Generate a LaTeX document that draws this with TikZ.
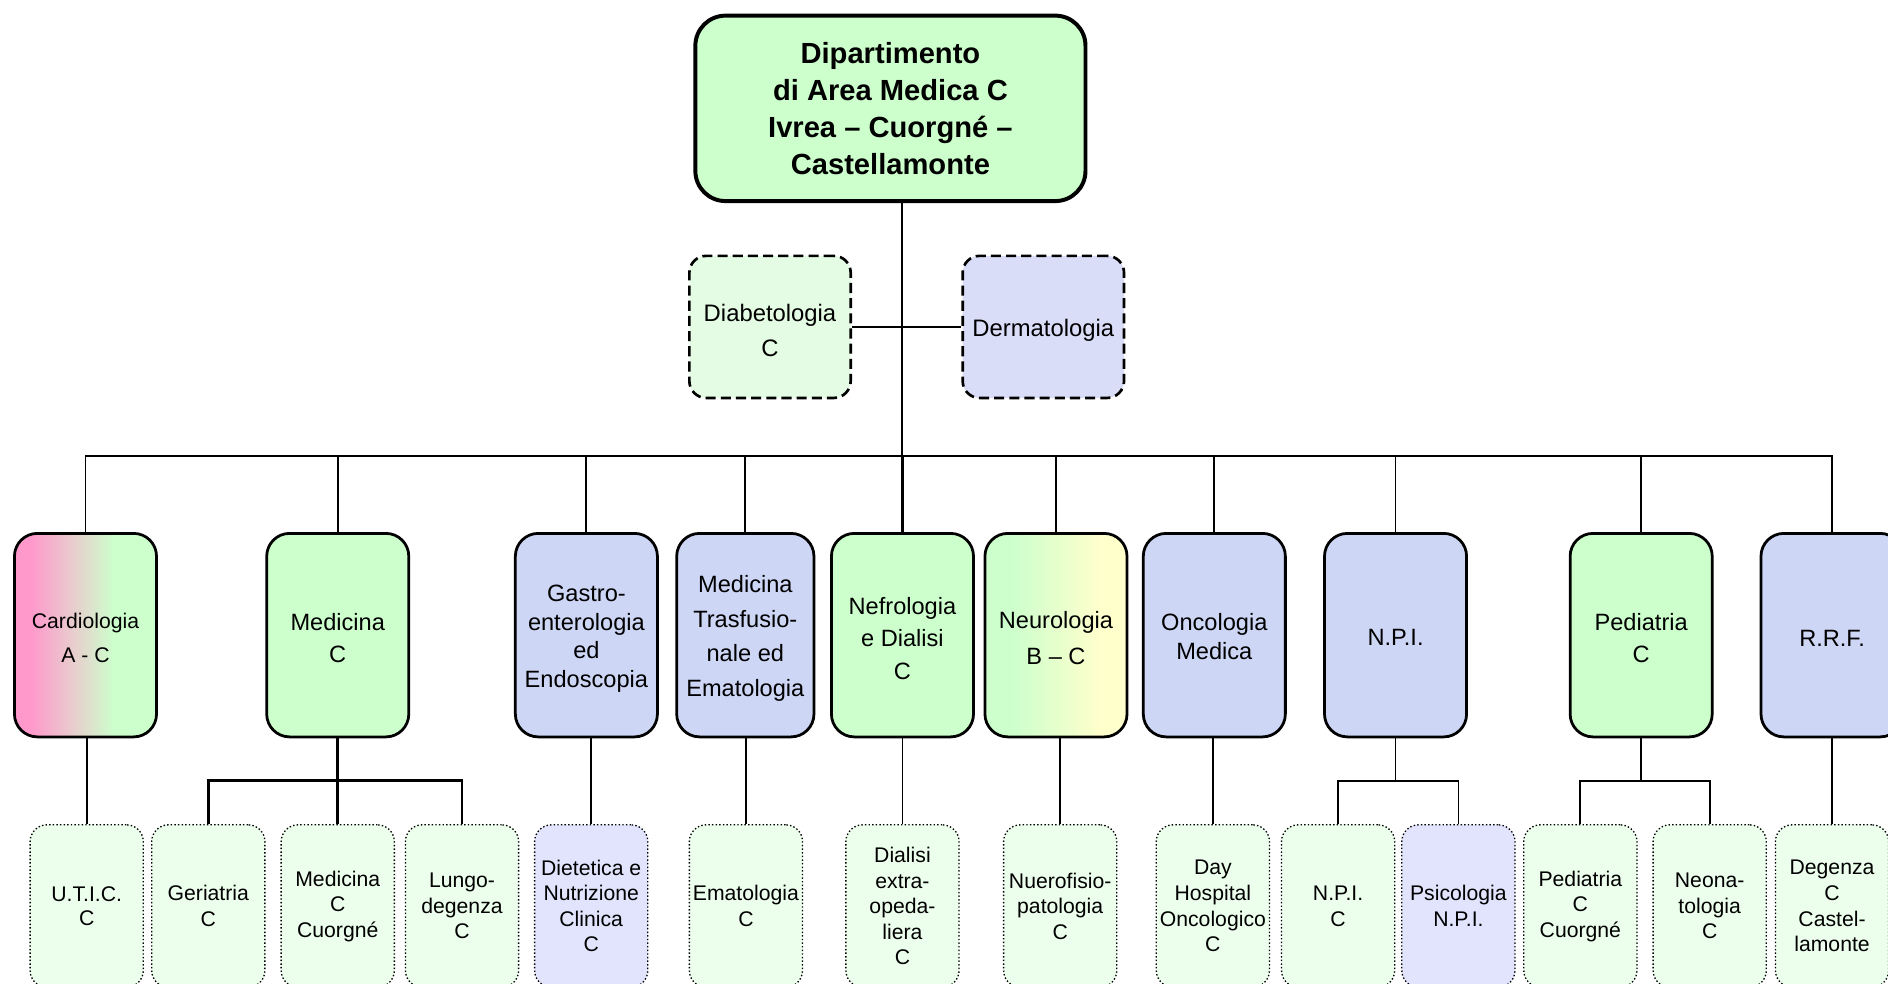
\documentclass[tikz,border=0pt]{standalone}
\usepackage{fontspec}
\setmainfont{Liberation Sans}
\newcommand\tup[1][2.6pt]{\raisebox{#1}{\vphantom{d}}}
\definecolor{lgreen}{RGB}{204,255,204}
\definecolor{pgreen}{RGB}{236,254,236}
\definecolor{dgreen}{RGB}{228,252,228}
\definecolor{tblue}{RGB}{205,214,245}
\definecolor{lblue}{RGB}{218,221,248}
\definecolor{pblue}{RGB}{225,228,252}
\definecolor{cpink}{RGB}{255,153,204}
\definecolor{cmid}{RGB}{230,210,205}
\definecolor{cyell}{RGB}{255,255,204}
\pgfdeclarehorizontalshading{cardioshade}{100bp}{color(0bp)=(cpink); color(25bp)=(cpink); color(31bp)=(cpink); color(47bp)=(cmid); color(60bp)=(lgreen); color(100bp)=(lgreen)}
\pgfdeclarehorizontalshading{neuroshade}{100bp}{color(0bp)=(lgreen); color(34bp)=(lgreen); color(66bp)=(cyell); color(100bp)=(cyell)}
\tikzset{
  topbox/.style={draw, line width=1.65pt, rounded corners=12.5pt, fill=lgreen,
    minimum width=162pt, minimum height=77pt, align=center, inner sep=0pt,
    font=\fontsize{12.1}{15.3}\selectfont\bfseries},
  dashbox/.style={draw, line width=1.1pt, dash pattern=on 4.2pt off 2.1pt, rounded corners=7pt,
    minimum width=67pt, minimum height=59pt, align=center, inner sep=0pt,
    font=\fontsize{9.9}{14.8}\selectfont},
  lvtwo/.style={draw, line width=1.15pt, rounded corners=9.5pt,
    minimum width=59pt, minimum height=84.5pt, align=center, inner sep=0pt,
    font=\fontsize{9.8}{13.5}\selectfont},
  leaf/.style={draw, line width=0.55pt, dash pattern=on 0.6pt off 0.9pt, rounded corners=7pt,
    minimum width=47pt, minimum height=67.5pt, fill=pgreen, align=center, inner sep=0pt,
    font=\fontsize{8.8}{10.6}\selectfont},
  conn/.style={line width=0.75pt},
  medconn/.style={line width=1.1pt}
}
\begin{document}
\begin{tikzpicture}[x=0.5pt,y=-0.5pt]
\useasboundingbox (0,0) rectangle (1568,817);
% top
\node[topbox] (top) at (739.5,90) {Dipartimento\\di Area Medica C\\Ivrea – Cuorgné –\\Castellamonte};
\node[dashbox, fill=dgreen] (diab) at (639.5,271.5) {\tup[3pt]Diabetologia\\C};
\node[dashbox, fill=lblue] (derm) at (866.5,271.5) {\tup[3pt]Dermatologia};
% level 2
\node[lvtwo, shade, shading=cardioshade, font=\fontsize{8.8}{14.2}\selectfont] (cardio) at (71,527.5) {\tup Cardiologia\\A - C};
\node[lvtwo, fill=lgreen, font=\fontsize{9.8}{13.4}\selectfont] (med) at (280.5,527.5) {\tup Medicina\\C};
\node[lvtwo, fill=tblue, font=\fontsize{9.8}{11.9}\selectfont] (gastro) at (487,527.5) {\tup Gastro-\\enterologia\\ed\\Endoscopia};
\node[lvtwo, fill=tblue, minimum width=57pt, font=\fontsize{9.8}{14.3}\selectfont] (trasf) at (619,527.5) {\tup Medicina\\Trasfusio-\\nale ed\\Ematologia};
\node[lvtwo, fill=lgreen, font=\fontsize{9.8}{13.5}\selectfont] (nefro) at (749.5,527.5) {\tup Nefrologia\\e Dialisi\\C};
\node[lvtwo, shade, shading=neuroshade, font=\fontsize{9.8}{15.1}\selectfont] (neuro) at (877,527.5) {\tup Neurologia\\B – C};
\node[lvtwo, fill=tblue, font=\fontsize{9.8}{12}\selectfont] (onco) at (1008.5,527.5) {\tup[1.5pt]Oncologia\\Medica};
\node[lvtwo, fill=tblue] (npi) at (1159,527.5) {\tup[1.5pt]N.P.I.};
\node[lvtwo, fill=lgreen, font=\fontsize{9.8}{13.4}\selectfont] (ped) at (1363,527.5) {\tup Pediatria\\C};
\node[lvtwo, fill=tblue] (rrf) at (1521.5,527.5) {\tup R.R.F.};
% leaves
\node[leaf, font=\fontsize{8.8}{9.8}\selectfont] (utic) at (72,752.5) {U.T.I.C.\\C};
\node[leaf] (ger) at (173,752.5) {Geriatria\\C};
\node[leaf] (medc) at (280.5,752.5) {Medicina\\C\\Cuorgné};
\node[leaf] (lung) at (383.7,752.5) {Lungo-\\degenza\\C};
\node[leaf, fill=pblue] (diet) at (491,752.5) {Dietetica e\\Nutrizione\\Clinica\\C};
\node[leaf] (emat) at (619.5,752.5) {Ematologia\\C};
\node[leaf] (dial) at (749.5,752.5) {Dialisi\\extra-\\opeda-\\liera\\C};
\node[leaf] (nfis) at (880.5,752.5) {Nuerofisio-\\patologia\\C};
\node[leaf] (dayh) at (1007.3,752.5) {Day\\Hospital\\Oncologico\\C};
\node[leaf] (npic) at (1111.3,752.5) {N.P.I.\\C};
\node[leaf, fill=pblue] (psic) at (1211.2,752.5) {Psicologia\\N.P.I.};
\node[leaf] (pedc) at (1312.5,752.5) {Pediatria\\C\\Cuorgné};
\node[leaf] (neona) at (1419.9,752.5) {Neona-\\tologia\\C};
\node[leaf] (deg) at (1521.5,752.5) {Degenza\\C\\Castel-\\lamonte};
% bus coordinates
\coordinate (busy) at (0,378.4);
\coordinate (suby) at (0,648.3);
% connectors
\draw[line width=0.85pt] (top.south -| nefro.north) -- (nefro.north |- busy);
\draw[line width=1.4pt] (nefro.north |- busy) -- (nefro.north);
\draw[line width=0.85pt] (diab.east) -- (derm.west);
\draw[conn] (cardio.north) -- (cardio.north |- busy) -- (rrf.north |- busy) -- (rrf.north);
\foreach \n in {med,gastro,trasf,neuro,onco,npi,ped}
  \draw[conn] (\n.north |- busy) -- (\n.north);
% single children
\draw[conn] (utic.north |- cardio.south) -- (utic.north);
\draw[conn] (diet.north |- gastro.south) -- (diet.north);
\draw[conn] (emat.north |- trasf.south) -- (emat.north);
\draw[conn] (dial.north |- nefro.south) -- (dial.north);
\draw[conn] (nfis.north |- neuro.south) -- (nfis.north);
\draw[conn] (dayh.north |- onco.south) -- (dayh.north);
\draw[conn] (deg.north |- rrf.south) -- (deg.north);
% Medicina subtree
\draw[line width=1.25pt] (med.south) -- (med.south |- suby);
\draw[medconn] (ger.north) -- (ger.north |- suby) -- (lung.north |- suby) -- (lung.north);
\draw[medconn] (medc.north |- suby) -- (medc.north);
% NPI subtree
\draw[conn] (npi.south) -- (npi.south |- suby);
\draw[conn] (npic.north) -- (npic.north |- suby) -- (psic.north |- suby) -- (psic.north);
% Pediatria subtree
\draw[conn] (ped.south) -- (ped.south |- suby);
\draw[conn] (pedc.north) -- (pedc.north |- suby) -- (neona.north |- suby) -- (neona.north);
\end{tikzpicture}
\end{document}
